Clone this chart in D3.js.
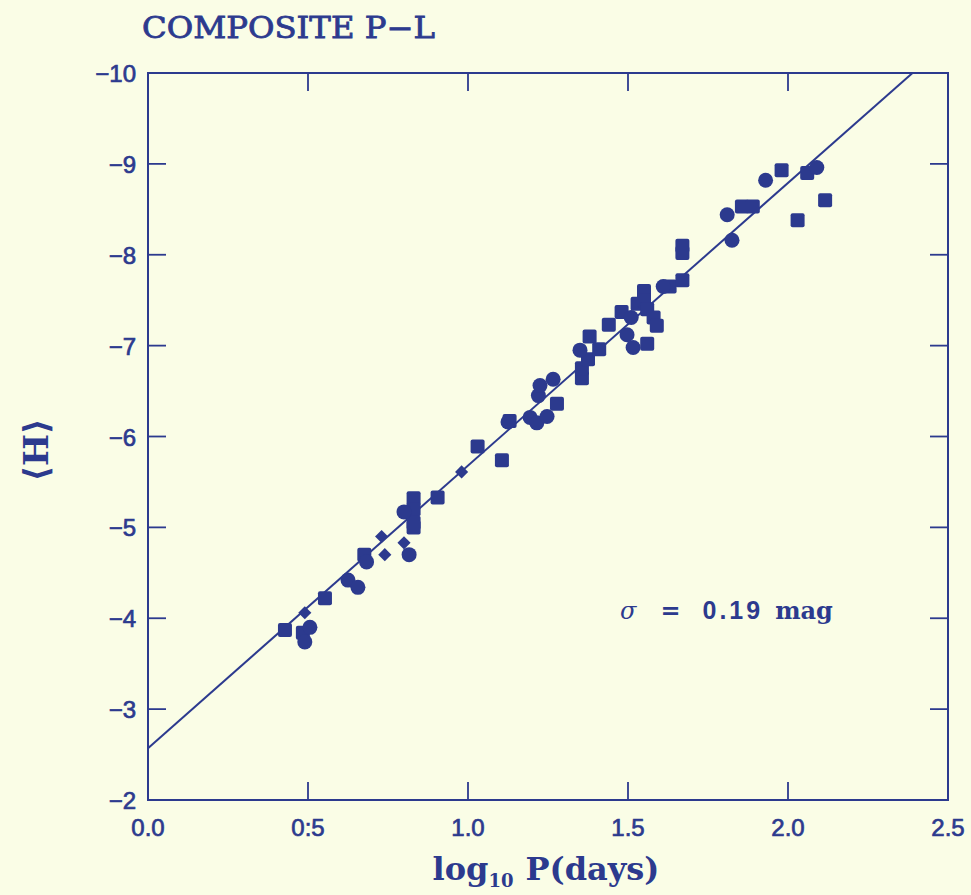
<!DOCTYPE html>
<html>
<head>
<meta charset="utf-8">
<script src="https://cdn.jsdelivr.net/npm/d3@7"></script>
<style>
  html, body { margin: 0; padding: 0; background: #fafde6; }
  svg { display: block; }
</style>
</head>
<body>
<svg id="grafico"></svg>
<script>
const ancho = 971;
const alto = 895;
const tinta = "#2c3a8e";

// ticks
const ticksX = [0, 0.5, 1.0, 1.5, 2.0, 2.5];
const etiquetasX = ["0.0", "0:5", "1.0", "1.5", "2.0", "2.5"];
const ticksY = [-10, -9, -8, -7, -6, -5, -4, -3, -2];

// ajuste lineal <H> = a + b logP
const ajuste = { a: -2.57, b: -3.11 };

// puntos [logP, <H>]
const cuadrados = [
  [0.428, -3.87], [0.484, -3.84], [0.553, -4.22], [0.676, -4.70],
  [0.83, -5.32], [0.83, -5.20], [0.83, -5.05], [0.83, -5.00], [0.905, -5.33],
  [1.03, -5.89], [1.106, -5.74], [1.13, -6.17], [1.278, -6.36],
  [1.356, -6.64], [1.356, -6.75], [1.375, -6.85], [1.38, -7.10], [1.41, -6.96],
  [1.44, -7.23], [1.48, -7.37], [1.53, -7.46], [1.55, -7.60], [1.55, -7.50],
  [1.56, -7.40], [1.58, -7.31], [1.59, -7.22], [1.56, -7.02],
  [1.63, -7.65], [1.67, -7.72], [1.67, -8.10], [1.67, -8.02],
  [1.856, -8.53], [1.89, -8.53], [1.98, -8.93], [2.03, -8.38],
  [2.06, -8.90], [2.116, -8.60]
];
const circulos = [
  [0.506, -3.90], [0.49, -3.74], [0.625, -4.42], [0.656, -4.34],
  [0.683, -4.62], [0.80, -5.17], [0.816, -4.70],
  [1.125, -6.16], [1.194, -6.21], [1.215, -6.15], [1.247, -6.22],
  [1.22, -6.45], [1.225, -6.56], [1.266, -6.63],
  [1.35, -6.95], [1.497, -7.12], [1.516, -6.98], [1.51, -7.31],
  [1.61, -7.65], [1.81, -8.44], [1.825, -8.16], [1.93, -8.82], [2.09, -8.96]
];
const rombos = [
  [0.49, -4.06], [0.73, -4.90], [0.74, -4.70], [0.80, -4.83], [0.98, -5.61]
];

const margen = { izq: 148, der: 23, sup: 73, inf: 95 };

const svg = d3.select("#grafico")
  .attr("width", ancho)
  .attr("height", alto);

svg.append("rect")
  .attr("width", ancho)
  .attr("height", alto)
  .attr("fill", "#fafde6");

const x = d3.scaleLinear().domain([0, 2.5]).range([margen.izq, ancho - margen.der]);
const y = d3.scaleLinear().domain([-10, -2]).range([margen.sup, alto - margen.inf]);

const fuenteTicks = "'Liberation Sans', Arial, sans-serif";
const fuenteSerif = "'DejaVu Serif', 'Liberation Serif', serif";

// marco
svg.append("rect")
  .attr("x", x(0))
  .attr("y", y(-10))
  .attr("width", x(2.5) - x(0))
  .attr("height", y(-2) - y(-10))
  .attr("fill", "none")
  .attr("stroke", tinta)
  .attr("stroke-width", 2);

const largoTick = 18;

// ticks hacia dentro en los cuatro lados
const gTicks = svg.append("g").attr("stroke", tinta).attr("stroke-width", 1.8);
ticksX.slice(1, -1).forEach(t => {
  gTicks.append("line").attr("x1", x(t)).attr("x2", x(t))
    .attr("y1", y(-2)).attr("y2", y(-2) - largoTick);
  gTicks.append("line").attr("x1", x(t)).attr("x2", x(t))
    .attr("y1", y(-10)).attr("y2", y(-10) + largoTick);
});
ticksY.slice(1, -1).forEach(t => {
  gTicks.append("line").attr("x1", x(0)).attr("x2", x(0) + largoTick)
    .attr("y1", y(t)).attr("y2", y(t));
  gTicks.append("line").attr("x1", x(2.5)).attr("x2", x(2.5) - largoTick)
    .attr("y1", y(t)).attr("y2", y(t));
});

// etiquetas
svg.append("g").selectAll("text")
  .data(ticksX)
  .join("text")
  .attr("x", d => x(d))
  .attr("y", y(-2) + 36)
  .attr("text-anchor", "middle")
  .attr("font-family", fuenteTicks)
  .attr("font-size", 24)
  .attr("fill", tinta)
  .attr("stroke", tinta)
  .attr("stroke-width", 0.7)
  .text((d, i) => etiquetasX[i]);

svg.append("g").selectAll("text")
  .data(ticksY)
  .join("text")
  .attr("x", x(0) - 12)
  .attr("y", d => y(d) + 9)
  .attr("text-anchor", "end")
  .attr("font-family", fuenteTicks)
  .attr("font-size", 24)
  .attr("fill", tinta)
  .attr("stroke", tinta)
  .attr("stroke-width", 0.7)
  .text(d => "\u2212" + Math.abs(d));

// linea de ajuste, recortada al marco
const xFin = (-10 - ajuste.a) / ajuste.b;
svg.append("line")
  .attr("x1", x(0))
  .attr("y1", y(ajuste.a))
  .attr("x2", x(xFin))
  .attr("y2", y(-10))
  .attr("stroke", tinta)
  .attr("stroke-width", 2);

// puntos
const gPuntos = svg.append("g").attr("fill", tinta);
const lado = 14;

gPuntos.selectAll("rect.cuadrado")
  .data(cuadrados)
  .join("rect")
  .attr("class", "cuadrado")
  .attr("x", d => x(d[0]) - lado / 2)
  .attr("y", d => y(d[1]) - lado / 2)
  .attr("width", lado)
  .attr("height", lado)
  .attr("rx", 2);

gPuntos.selectAll("circle.circulo")
  .data(circulos)
  .join("circle")
  .attr("class", "circulo")
  .attr("cx", d => x(d[0]))
  .attr("cy", d => y(d[1]))
  .attr("r", 7.5);

const simboloRombo = d3.symbol().type(d3.symbolDiamond2).size(110);
gPuntos.selectAll("path.rombo")
  .data(rombos)
  .join("path")
  .attr("class", "rombo")
  .attr("transform", d => `translate(${x(d[0])},${y(d[1])})`)
  .attr("d", simboloRombo);

// titulo
svg.append("text")
  .attr("x", 142)
  .attr("y", 38)
  .attr("font-family", fuenteSerif)
  .attr("font-size", 29)
  .attr("fill", tinta)
  .attr("stroke", tinta)
  .attr("stroke-width", 0.8)
  .attr("textLength", 293)
  .attr("lengthAdjust", "spacingAndGlyphs")
  .text("COMPOSITE P\u2212L");

// sigma
const sigma = svg.append("text")
  .attr("x", 620)
  .attr("y", 619)
  .attr("font-family", fuenteSerif)
  .attr("font-size", 24)
  .attr("font-weight", "bold")
  .attr("fill", tinta);
sigma.append("tspan").attr("font-style", "italic").attr("font-weight", "normal").text("\u03c3");
sigma.append("tspan").attr("dx", 24).text("=");
sigma.append("tspan").attr("dx", 22).attr("font-family", fuenteTicks)
  .attr("font-size", 25).attr("letter-spacing", 3).text("0.19");
sigma.append("tspan").attr("dx", 12).text("mag");

// etiqueta eje x
const etiquetaX = svg.append("text")
  .attr("x", 546)
  .attr("y", 880)
  .attr("text-anchor", "middle")
  .attr("font-family", fuenteSerif)
  .attr("font-size", 32)
  .attr("font-weight", "bold")
  .attr("fill", tinta);
etiquetaX.append("tspan").text("log");
etiquetaX.append("tspan").attr("font-size", 18).attr("dy", 7).text("10");
etiquetaX.append("tspan").attr("dy", -7).attr("dx", 12).text("P(days)");

// etiqueta eje y
svg.append("text")
  .attr("transform", "translate(48,450) rotate(-90)")
  .attr("text-anchor", "middle")
  .attr("font-family", fuenteSerif)
  .attr("font-size", 34)
  .attr("font-weight", "bold")
  .attr("fill", tinta)
  .text("\u27e8H\u27e9");
</script>
</body>
</html>
